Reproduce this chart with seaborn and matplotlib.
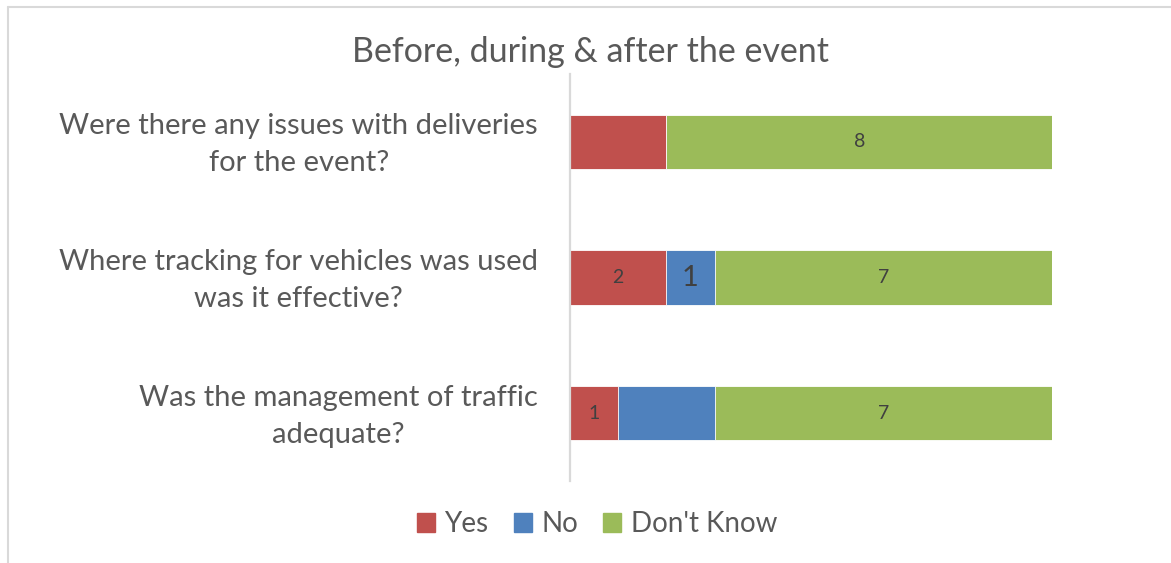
import matplotlib
matplotlib.use("Agg")
import matplotlib.pyplot as plt
import matplotlib.patches as mpatches
import matplotlib.transforms as mtransforms
import pandas as pd
import seaborn as sns

questions = [
    "Were there any issues with deliveries\nfor the event?",
    "Where tracking for vehicles was used\nwas it effective?",
    "Was the management of traffic\nadequate?",
]
yes = [2, 2, 1]
no = [0, 1, 2]
dont_know = [8, 7, 7]
# which segment values Excel actually printed on the bars
yes_shown = [False, True, True]
no_shown = [False, True, False]
dk_shown = [True, True, True]

series = ["Yes", "No", "Don't Know"]
colors = ["#C0504D", "#4F81BD", "#9BBB59"]
text_col = "#595959"

sns.set_theme(style="white")
plt.rcParams["font.family"] = ["Lato", "DejaVu Sans"]

df = pd.DataFrame({"q": questions, "yes": yes, "no": no, "dk": dont_know})
df["cum_yes"] = df["yes"]
df["cum_no"] = df["yes"] + df["no"]
df["cum_dk"] = df["cum_no"] + df["dk"]

fig = plt.figure(figsize=(11.71, 5.63), dpi=100)
ax = fig.add_axes([570 / 1171, 1 - 481 / 563, 482 / 1171, 407 / 563])

# stacked bars: draw totals first, then overlay the shorter cumulative sums
for col, c in zip(["cum_dk", "cum_no", "cum_yes"], colors[::-1]):
    sns.barplot(data=df, x=col, y="q", orient="h", color=c, width=0.4,
                edgecolor="white", linewidth=0.6, saturation=1, ax=ax)

for i, row in df.iterrows():
    if yes_shown[i]:
        ax.text(row["yes"] / 2, i, str(row["yes"]), ha="center", va="center",
                fontsize=14, color="#404040")
    if no_shown[i]:
        ax.text(row["cum_yes"] + row["no"] / 2, i, str(row["no"]), ha="center",
                va="center", fontsize=21, color="#404040")
    if dk_shown[i]:
        ax.text(row["cum_no"] + row["dk"] / 2, i, str(row["dk"]), ha="center",
                va="center", fontsize=14, color="#404040")

ax.set_xlim(0, 10)
ax.set_ylim(2.5, -0.5)
ax.set_xlabel("")
ax.set_ylabel("")
ax.set_xticks([])
ax.tick_params(axis="y", length=0, pad=23, labelsize=21, labelcolor=text_col)
nudge = mtransforms.ScaledTranslation(0, 5 / 100, fig.dpi_scale_trans)
for lab in ax.get_yticklabels():
    lab.set_multialignment("center")
    lab.set_linespacing(1.53)
    lab.set_transform(lab.get_transform() + nudge)
for s in ["top", "right", "bottom"]:
    ax.spines[s].set_visible(False)
ax.spines["left"].set_color("#D9D9D9")
ax.spines["left"].set_linewidth(1.6)

fig.text(591 / 1171, 1 - 52 / 563, "Before, during & after the event",
         ha="center", va="center", fontsize=24.5, color=text_col)

handles = [mpatches.Patch(color=c, label=s) for c, s in zip(colors, series)]
fig.legend(handles=handles, loc="center", bbox_to_anchor=(597 / 1171, 1 - 524 / 563),
           ncol=3, frameon=False, fontsize=20, labelcolor=text_col,
           handlelength=0.65, handleheight=0.65, handletextpad=0.35, columnspacing=0.9)

# chart-area frame, only its left and top edges show in the crop
fig.add_artist(plt.Line2D([8 / 1171, 8 / 1171], [0, 1 - 7 / 563],
                          transform=fig.transFigure, color="#D9D9D9", lw=1.5))
fig.add_artist(plt.Line2D([8 / 1171, 1], [1 - 7 / 563, 1 - 7 / 563],
                          transform=fig.transFigure, color="#D9D9D9", lw=1.5))

fig.savefig("out.png", dpi=100, facecolor="white")
